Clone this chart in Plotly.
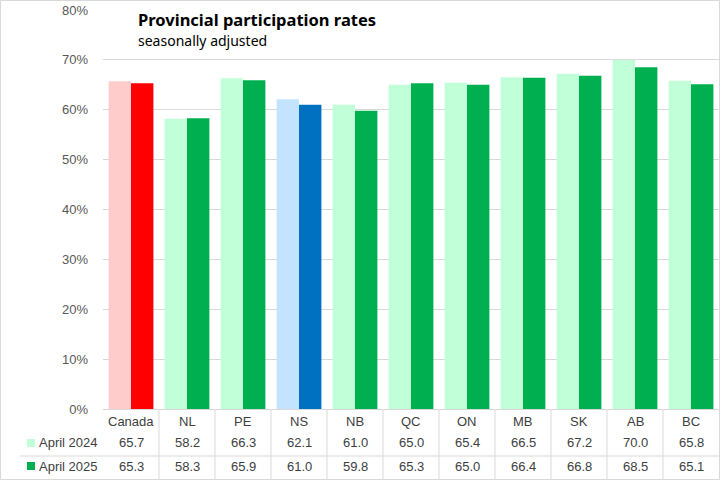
import plotly.graph_objects as go

categories = ["Canada", "NL", "PE", "NS", "NB", "QC", "ON", "MB", "SK", "AB", "BC"]
april_2024 = [65.7, 58.2, 66.3, 62.1, 61.0, 65.0, 65.4, 66.5, 67.2, 70.0, 65.8]
april_2025 = [65.3, 58.3, 65.9, 61.0, 59.8, 65.3, 65.0, 66.4, 66.8, 68.5, 65.1]
series_names = ["April 2024", "April 2025"]

light_colors = {"Canada": "#FFCCCC", "NS": "#C4E3FF"}
dark_colors = {"Canada": "#FF0000", "NS": "#0070C0"}
default_light = "#C1FFD9"
default_dark = "#00B050"

c24 = [light_colors.get(c, default_light) for c in categories]
c25 = [dark_colors.get(c, default_dark) for c in categories]

W, H = 721, 481
L, R, T, B = 103, 2, 10, 72
pw = W - L - R
ph = H - T - B


def px_x(px):
    return (px - L) / pw


def px_y(py):
    return (H - B - py) / ph


narrow = "Liberation Sans Narrow, Arial Narrow, Liberation Sans, sans-serif"
txt_col = "#404040"
fs = 13

fig = go.Figure()
fig.add_trace(go.Bar(x=categories, y=april_2024, name=series_names[0],
                     marker=dict(color=c24, line=dict(width=0))))
fig.add_trace(go.Bar(x=categories, y=april_2025, name=series_names[1],
                     marker=dict(color=c25, line=dict(width=0))))

annotations = []
shapes = []

# title
annotations.append(dict(text="<b>Provincial participation rates</b>", x=px_x(137), y=px_y(19),
                        xref="paper", yref="paper", xanchor="left", yanchor="middle",
                        showarrow=False, borderpad=0,
                        font=dict(family="Noto Sans", size=16.5, color="#000000")))
annotations.append(dict(text="seasonally adjusted", x=px_x(137), y=px_y(40),
                        xref="paper", yref="paper", xanchor="left", yanchor="middle",
                        showarrow=False, borderpad=0,
                        font=dict(family="Noto Sans", size=14, color="#000000")))

# data table
rows_y = [px_y(421), px_y(443), px_y(466)]
for i, c in enumerate(categories):
    annotations.append(dict(text=c, x=c, y=rows_y[0], xref="x", yref="paper",
                            xanchor="center", yanchor="middle", showarrow=False,
                            font=dict(family=narrow, size=fs, color=txt_col)))
    annotations.append(dict(text=f"{april_2024[i]:.1f}", x=c, y=rows_y[1], xref="x", yref="paper",
                            xanchor="center", yanchor="middle", showarrow=False,
                            font=dict(family=narrow, size=fs, color=txt_col)))
    annotations.append(dict(text=f"{april_2025[i]:.1f}", x=c, y=rows_y[2], xref="x", yref="paper",
                            xanchor="center", yanchor="middle", showarrow=False,
                            font=dict(family=narrow, size=fs, color=txt_col)))

for name, ry, col, ky in [(series_names[0], rows_y[1], default_light, 443),
                          (series_names[1], rows_y[2], default_dark, 466)]:
    annotations.append(dict(text=name, x=px_x(37), y=ry, xref="paper", yref="paper",
                            xanchor="left", yanchor="middle", showarrow=False,
                            font=dict(family=narrow, size=fs, color=txt_col)))
    shapes.append(dict(type="rect", xref="paper", yref="paper",
                       x0=px_x(27), x1=px_x(35), y0=px_y(ky + 4), y1=px_y(ky - 4),
                       fillcolor=col, line=dict(width=0)))

grid = "#D9D9D9"
shapes.append(dict(type="line", xref="paper", yref="paper", x0=px_x(20), x1=1,
                   y0=px_y(456), y1=px_y(456), line=dict(color=grid, width=1)))
for i in range(len(categories) - 1):
    shapes.append(dict(type="line", xref="x", yref="paper", x0=i + 0.5, x1=i + 0.5,
                       y0=0, y1=px_y(480), line=dict(color=grid, width=1)))

# chart border
shapes.append(dict(type="rect", xref="paper", yref="paper",
                   x0=px_x(0.5), x1=px_x(W - 1.5), y0=px_y(H - 1.5), y1=px_y(0.5),
                   line=dict(color=grid, width=1), fillcolor="rgba(0,0,0,0)"))

fig.update_layout(
    width=W, height=H,
    margin=dict(l=L, r=R, t=T, b=B),
    paper_bgcolor="white", plot_bgcolor="white",
    barmode="group", bargap=0.2, bargroupgap=0,
    showlegend=False,
    annotations=annotations, shapes=shapes,
    xaxis=dict(range=[-0.5, len(categories) - 0.5], showticklabels=False, automargin=False,
               showgrid=False, zeroline=False, showline=False, fixedrange=True),
    yaxis=dict(range=[0, 80], dtick=10, ticksuffix="%", gridcolor=grid, gridwidth=1,
               zeroline=True, zerolinecolor=grid, zerolinewidth=1, showline=False,
               ticks="", ticklabelstandoff=14, automargin=False,
               tickfont=dict(family=narrow, size=fs, color="#595959"), fixedrange=True),
)

fig.write_html("out.html", config={"displayModeBar": False},
               post_script="document.body.style.margin='0';document.body.style.padding='0';document.body.style.overflow='hidden';")
